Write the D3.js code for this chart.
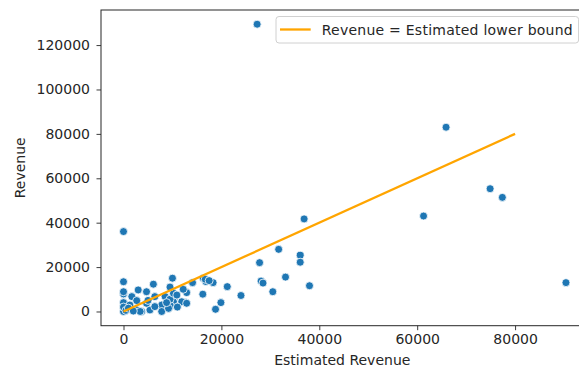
<!DOCTYPE html>
<html>
<head>
<meta charset="utf-8">
<script src="https://cdn.jsdelivr.net/npm/d3@7"></script>
<style>
  html, body { margin: 0; padding: 0; background: #fff; }
  svg { display: block; font-family: "DejaVu Sans", sans-serif; }
</style>
</head>
<body>
<svg id="chart" width="579" height="369"></svg>
<script>
// Estimated revenue (x) vs. actual revenue (y) for each record
const estimatedRevenue = [
  27300, 65900, 74900, 77400, 61300, 36900, 0, 31700, 36100, 36100,
  27800, 33100, 28100, 28500, 38000, 30500, 90400, 24000, 21200, 16200,
  19900, 18800, 10000, 14100, 16300, 16800, 18300, 12900, 10700, 12200,
  12600, 10200, 9600, 0, 0, 0, 0, 3000, 4700, 6100,
  1700, 2700, 3700, 5400, 6400, 7800, 8500, 9500, 7800, 10200,
  11900, 10900, 12900, 9200, 6400, 4700, 2700, 1300, 3400, 16700,
  17500, 0, 0, 500, 1000, 2000, 5000, 8800, 11000, 9500
];
const revenue = [
  129400, 83000, 55300, 51400, 43000, 41700, 36000, 28000, 25300, 22200,
  22000, 15500, 13700, 12800, 11600, 8900, 13000, 7200, 11200, 7800,
  4000, 1000, 15000, 13000, 15000, 13500, 13000, 8500, 6700, 10000,
  4000, 4400, 2500, 13400, 7900, 4000, 0, 9700, 8900, 12300,
  6700, 4900, 0, 700, 6700, 2900, 6700, 5500, 0, 8200,
  4400, 7400, 3700, 1400, 2200, 3700, 700, 2900, 0, 14500,
  13900, 8900, 2000, 500, 1500, 200, 5000, 4000, 2000, 11000
];
// Reference line: revenue equal to the estimate
const boundLine = [0, 80000];
const xTicks = [0, 20000, 40000, 60000, 80000];
const yTicks = [0, 20000, 40000, 60000, 80000, 100000, 120000];
const legendLabel = "Revenue = Estimated lower bound";

const svg = d3.select("#chart");
const plotLeft = 101, plotTop = 10, plotRight = 583.6, plotBottom = 325.7;

const x = d3.scaleLinear().domain([-4600, 94000]).range([plotLeft, plotRight]);
const y = d3.scaleLinear().domain([-6400, 135800]).range([plotBottom, plotTop]);

const ink = "#262626";
const fontSize = 14;

// Axes
const xAxis = svg.append("g")
  .attr("transform", `translate(0,${plotBottom})`)
  .call(d3.axisBottom(x).tickValues(xTicks).tickFormat(d3.format("d")).tickSize(4.5).tickPadding(4));
const yAxis = svg.append("g")
  .attr("transform", `translate(${plotLeft},0)`)
  .call(d3.axisLeft(y).tickValues(yTicks).tickFormat(d3.format("d")).tickSize(4.5).tickPadding(6.5));
[xAxis, yAxis].forEach(g => {
  g.select(".domain").remove();
  g.selectAll("line").attr("stroke", ink).attr("stroke-width", 0.9);
  g.selectAll("text").attr("fill", ink).style("font-size", fontSize + "px").style("font-family", "DejaVu Sans");
});

// Frame around the plotting area
svg.append("rect")
  .attr("x", plotLeft).attr("y", plotTop)
  .attr("width", plotRight - plotLeft).attr("height", plotBottom - plotTop)
  .attr("fill", "none").attr("stroke", ink).attr("stroke-width", 1);

// Scatter points
const pts = estimatedRevenue.map((e, i) => [e, revenue[i]]);
svg.append("g").selectAll("circle").data(pts).join("circle")
  .attr("cx", d => x(d[0])).attr("cy", d => y(d[1]))
  .attr("r", 4)
  .attr("fill", "#1f77b4")
  .attr("stroke", "#fff").attr("stroke-width", 0.8);

// Lower bound line
svg.append("path")
  .datum(boundLine)
  .attr("d", d3.line().x(d => x(d)).y(d => y(d)))
  .attr("fill", "none").attr("stroke", "#ffa500").attr("stroke-width", 2.3);

// Axis titles
svg.append("text")
  .attr("x", (plotLeft + plotRight) / 2).attr("y", 365)
  .attr("text-anchor", "middle").attr("fill", ink)
  .style("font-size", fontSize + "px")
  .text("Estimated Revenue");
svg.append("text")
  .attr("transform", `translate(25,${(plotTop + plotBottom) / 2}) rotate(-90)`)
  .attr("text-anchor", "middle").attr("fill", ink)
  .style("font-size", fontSize + "px")
  .text("Revenue");

// Legend
const lg = svg.append("g");
lg.append("rect")
  .attr("x", 276).attr("y", 16.5).attr("width", plotRight - 5 - 276).attr("height", 26.5)
  .attr("rx", 3).attr("fill", "#fff").attr("fill-opacity", 0.8)
  .attr("stroke", "#d0d0d0").attr("stroke-width", 1);
lg.append("line")
  .attr("x1", 280).attr("x2", 310.7).attr("y1", 29.5).attr("y2", 29.5)
  .attr("stroke", "#ffa500").attr("stroke-width", 2.3);
lg.append("text")
  .attr("x", 321.7).attr("y", 34.5).attr("fill", ink)
  .attr("textLength", 251).attr("lengthAdjust", "spacing")
  .style("font-size", fontSize + "px")
  .text(legendLabel);
</script>
</body>
</html>
